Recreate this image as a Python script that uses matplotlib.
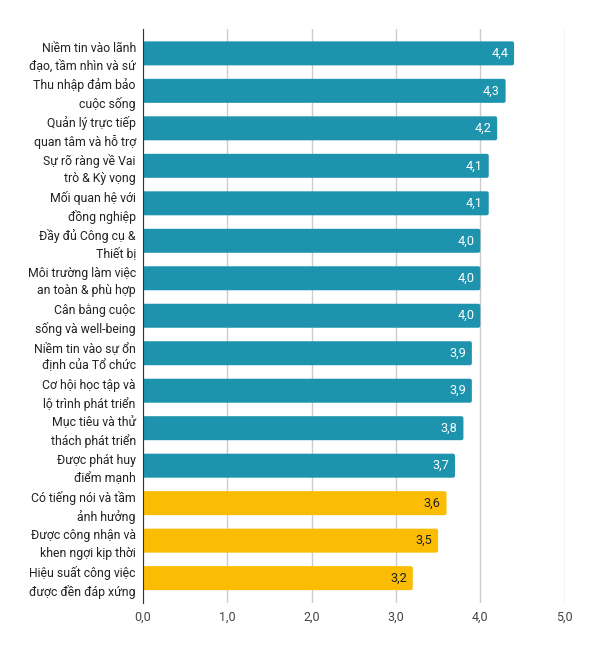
import matplotlib.pyplot as plt
from matplotlib.patches import FancyBboxPatch
import numpy as np

plt.rcParams["font.family"] = ["Roboto", "DejaVu Sans"]

# data
labels = [
    "Niềm tin vào lãnh\nđạo, tầm nhìn và sứ",
    "Thu nhập đảm bảo\ncuộc sống",
    "Quản lý trực tiếp\nquan tâm và hỗ trợ",
    "Sự rõ ràng về Vai\ntrò & Kỳ vọng",
    "Mối quan hệ với\nđồng nghiệp",
    "Đầy đủ Công cụ &\nThiết bị",
    "Môi trường làm việc\nan toàn & phù hợp",
    "Cân bằng cuộc\nsống và well-being",
    "Niềm tin vào sự ổn\nđịnh của Tổ chức",
    "Cơ hội học tập và\nlộ trình phát triển",
    "Mục tiêu và thử\nthách phát triển",
    "Được phát huy\nđiểm mạnh",
    "Có tiếng nói và tầm\nảnh hưởng",
    "Được công nhận và\nkhen ngợi kịp thời",
    "Hiệu suất công việc\nđược đền đáp xứng",
]
values = [4.4, 4.3, 4.2, 4.1, 4.1, 4.0, 4.0, 4.0, 3.9, 3.9, 3.8, 3.7, 3.6, 3.5, 3.2]
highlight = [False] * 12 + [True] * 3

teal = "#1d93ae"
yellow = "#fbbc04"

fig = plt.figure(figsize=(5.95, 6.53), dpi=100)
ax = fig.add_axes([142.7 / 595, 1 - 602.5 / 653, 422 / 595, 573.5 / 653])

y = np.arange(len(labels))
colors = [yellow if h else teal for h in highlight]
bars = ax.barh(y, values, height=0.64, color=colors, zorder=2)

ax.set_xlim(0, 5)
ax.set_ylim(len(labels) - 0.35, -0.65)

# round the bar corners a little
for b in bars:
    x0, y0, w, h = b.get_x(), b.get_y(), b.get_width(), b.get_height()
    ax.add_patch(FancyBboxPatch((x0, y0), w, h,
                                boxstyle="round,pad=0,rounding_size=0.025",
                                mutation_aspect=2.2, fc=b.get_facecolor(),
                                ec="none", zorder=2))
    b.remove()

for yi, v, h in zip(y, values, highlight):
    ax.text(v - 0.07, yi, f"{v:.1f}".replace(".", ","), ha="right", va="center",
            fontsize=9.2, color="#222222" if h else "white", zorder=3)

ax.set_xticks(np.arange(0, 6))
ax.set_xticklabels([f"{t:.1f}".replace(".", ",") for t in range(6)], fontsize=9, color="#444444")
ax.set_yticks(y)
ax.set_yticklabels(labels, fontsize=8.8, color="#222222", linespacing=1.45)
ax.tick_params(length=0, pad=5)
ax.tick_params(axis="x", pad=6)

ax.grid(axis="x", color="#cccccc", linewidth=1, zorder=0)
for s in ["top", "right", "bottom"]:
    ax.spines[s].set_visible(False)
ax.spines["left"].set_color("#333333")
ax.spines["left"].set_zorder(4)

plt.savefig("out.png", dpi=100)
